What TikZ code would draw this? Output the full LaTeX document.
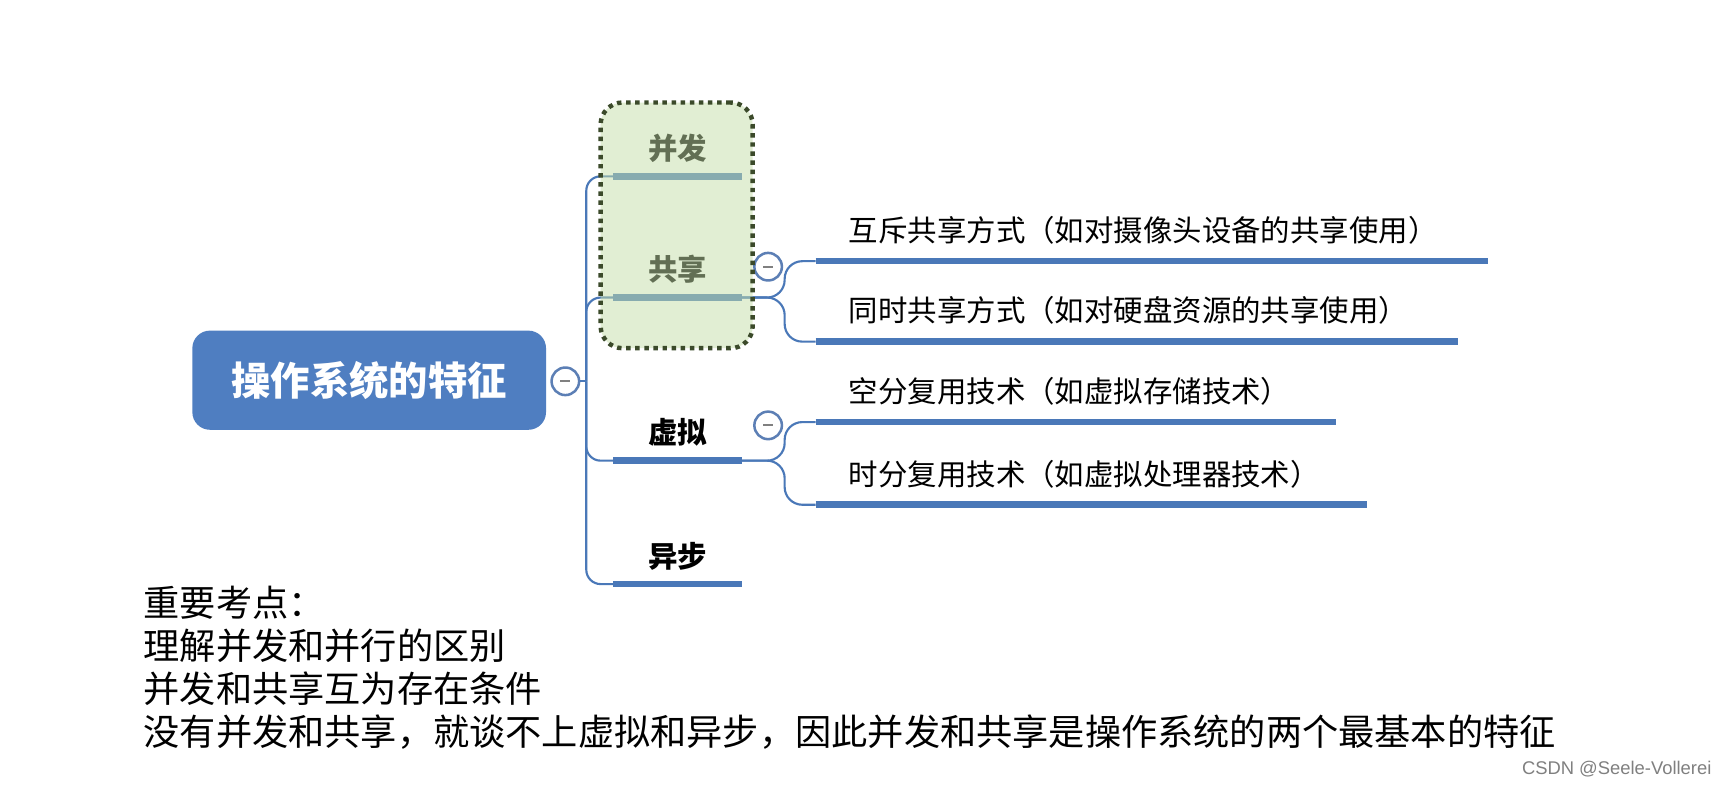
\documentclass[tikz,border=0pt]{standalone}
\usepackage{fontspec}
\setmainfont{Noto Sans CJK SC}
\newfontfamily\wmfont{Liberation Sans}
\usepackage{tikz}
\usetikzlibrary{positioning}

\definecolor{mmblue}{HTML}{4F7EC1}
\definecolor{lineblue}{HTML}{4A78B8}
\definecolor{toggleblue}{HTML}{5C7FB5}
\definecolor{grpgreen}{HTML}{C5DFA8}
\definecolor{grpdot}{HTML}{3B4A2A}

\begin{document}
\begin{tikzpicture}[
  x=0.02cm, y=-0.02cm,
  rootbox/.style={fill=mmblue, rounded corners=0.32cm, minimum width=6.42cm, minimum height=1.8cm, text=white, font=\fontsize{20.3pt}{24pt}\selectfont\bfseries},
  branch/.style={anchor=south, minimum width=2.32cm, inner xsep=0pt, inner ysep=7pt, font=\fontsize{15.2pt}{18pt}\selectfont\bfseries},
  subbranch/.style={anchor=south west, inner xsep=0.6cm, inner ysep=8.5pt, align=left, text width=#1, font=\fontsize{15.2pt}{18pt}\selectfont},
  uline/.style={draw=lineblue, line width=3.4pt},
  link/.style={draw=lineblue, line width=1.1pt, rounded corners=0.26cm},
  toggle/.style={circle, draw=toggleblue, line width=1.3pt, fill=white, minimum size=0.5cm, inner sep=0pt,
    path picture={\draw[gray, line width=1.1pt] ([xshift=-0.09cm]path picture bounding box.center) -- ([xshift=0.09cm]path picture bounding box.center);}},
  grpbox/.style={fill=grpgreen, fill opacity=0.5, draw=grpdot, line width=2.3pt, dash pattern=on 2.3pt off 2.4pt, rounded corners=0.4cm, minimum width=2.76cm, minimum height=4.46cm},
  notes/.style={anchor=west, align=left, inner sep=0pt, font=\fontsize{18.7pt}{22.2pt}\selectfont},
  wmark/.style={text=gray, font=\wmfont\fontsize{9.5pt}{11pt}\selectfont}
]
\path[use as bounding box, fill=white] (0,0) rectangle (1568,716);

% root and first level
\node[rootbox] (root) at (335,345) {操作系统的特征};
\node[toggle] (rootc) at (513,346) {};
\coordinate (trunk) at (532,346);

\node[branch] (bf) at (615,160) {并发};
\node[branch] (gx) at (615,270) {共享};
\node[branch] (xn) at (615,418) {虚拟};
\node[branch] (yb) at (615,530) {异步};

\draw[link] (rootc.east) -- (trunk);
\foreach \b in {bf,gx,xn,yb}
  \draw[link] (trunk) |- (\b.south west);

% second level
\node[subbranch=11cm] (s1) at (740,237) {互斥共享方式（如对摄像头设备的共享使用）};
\node[subbranch=10.44cm] (s2) at (740,310) {同时共享方式（如对硬盘资源的共享使用）};
\node[subbranch=8.24cm] (s3) at (740,383) {空分复用技术（如虚拟存储技术）};
\node[subbranch=8.8cm] (s4) at (740,458) {时分复用技术（如虚拟处理器技术）};

\coordinate (gxsplit) at (712,270);
\coordinate (xnsplit) at (712,418);
\foreach \s in {s1,s2}
  \draw[link, rounded corners=0.32cm] (gx.south east) -- (gxsplit) |- (\s.south west);
\foreach \s in {s3,s4}
  \draw[link, rounded corners=0.32cm] (xn.south east) -- (xnsplit) |- (\s.south west);

\foreach \n in {bf,gx,xn,yb,s1,s2,s3,s4}
  \draw[uline] (\n.south west) -- (\n.south east);

\node[toggle] (gxc) at (697,242) {};
\node[toggle] (xnc) at (697,386) {};

% dotted group over 并发 / 共享
\node[grpbox] (grp) at (614,204.5) {};

\node[notes] (notes) at (130,606) {重要考点：\\理解并发和并行的区别\\并发和共享互为存在条件\\没有并发和共享，就谈不上虚拟和异步，因此并发和共享是操作系统的两个最基本的特征};
\node[wmark] (wm) at (1467,698) {CSDN @Seele-Vollerei};
\end{tikzpicture}
\end{document}
